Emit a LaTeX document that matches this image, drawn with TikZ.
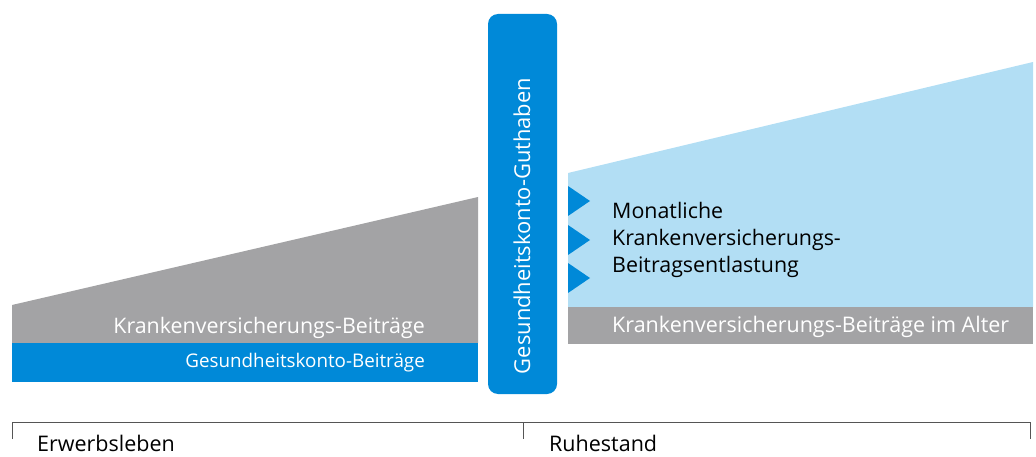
\documentclass[tikz,border=0pt]{standalone}
\usepackage{fontspec}
\setmainfont{Open Sans}
\usepackage{tikz}
\usetikzlibrary{positioning}
\definecolor{kontoblau}{RGB}{0,137,216}
\definecolor{hellblau}{RGB}{178,222,244}
\definecolor{beitraggrau}{RGB}{163,163,165}
\definecolor{achsgrau}{RGB}{85,85,85}
\tikzstyle{weiss} = [text=white, inner sep=0pt, font=\fontsize{21.4}{24}\selectfont]
\tikzstyle{schwarz} = [text=black, inner sep=0pt, font=\fontsize{21.5}{24}\selectfont]
\tikzstyle{achse} = [draw=achsgrau, line width=1pt]

\begin{document}
\begin{tikzpicture}[x=1pt, y=-1pt]
\useasboundingbox (0,0) rectangle (1036,457);
% Erwerbsleben
\fill [beitraggrau] (12,305) -- (478,197) -- (478,343) -- (12,343) -- cycle;
\fill [kontoblau] (12,343) rectangle (478,382);
\node [weiss, anchor=east] (KVB) at (425,328) {Krankenversicherungs-Beiträge};
\node [weiss, anchor=east, font=\fontsize{18.8}{22}\selectfont] (GKB) at (425,363) {Gesundheitskonto-Beiträge};
% Guthaben
\fill [kontoblau, rounded corners=10pt] (488,14) rectangle (557,394);
\node [weiss, rotate=90, font=\fontsize{21.9}{26}\selectfont] (GKG) at (522,226) {Gesundheitskonto-Guthaben};
% Ruhestand
\fill [hellblau] (568,173) -- (1033,62) -- (1033,307) -- (568,307) -- cycle;
\fill [beitraggrau] (568,307) rectangle (1033,344);
\foreach \y in {201,240,278}
  \fill [kontoblau] (568,\y-15) -- (590,\y) -- (568,\y+15) -- cycle;
\node [schwarz, anchor=west, align=left, font=\fontsize{21.4}{27}\selectfont] (ENT) at (612,240)
  {Monatliche\\Krankenversicherungs-\\Beitragsentlastung};
\node [weiss, anchor=west, font=\fontsize{21.5}{24}\selectfont] (KVA) at (612,327) {Krankenversicherungs-Beiträge im Alter};
% Zeitachse
\draw [achse] (12,439) -- (12,422) -- (1030,422) -- (1030,439);
\draw [achse] (523,422) -- (523,439);
\node [schwarz, anchor=base west] (ERW) at (37,451) {Erwerbsleben};
\node [schwarz, anchor=base west] (RUH) at (549,451) {Ruhestand};
\end{tikzpicture}
\end{document}
